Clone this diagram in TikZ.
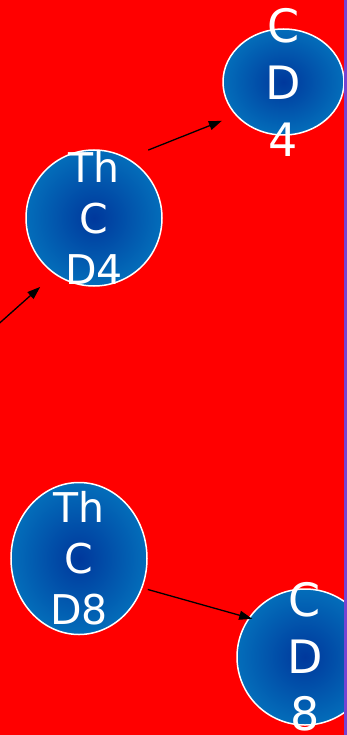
\documentclass[tikz,border=0pt]{standalone}
\usepackage{fontspec}
\setmainfont{DejaVu Sans}
\usetikzlibrary{shapes.geometric,arrows.meta}
\definecolor{bgred}{RGB}{255,0,0}
\definecolor{stripcol}{RGB}{118,68,210}
\definecolor{bin}{RGB}{0,56,156}
\definecolor{bout}{RGB}{4,124,194}
\pgfdeclareradialshading{blobshade}{\pgfpoint{0bp}{0bp}}{color(0bp)=(bin); color(32bp)=(bout); color(75bp)=(bout)}
\begin{document}
\begin{tikzpicture}[x=1pt,y=-1pt,
  blob/.style={ellipse, draw=white, line width=1.5pt, shading=blobshade, inner sep=0pt, outer sep=0pt},
  lbl/.style={text=white, align=center, inner sep=0pt},
  smalltxt/.style={font=\fontsize{41}{51}\selectfont},
  bigtxt/.style={font=\fontsize{46}{57}\selectfont},
  conn/.style={-{Triangle[length=13pt,width=9pt]}, line width=1.3pt, black}]
\useasboundingbox (0,0) rectangle (347,735);
\fill[bgred] (0,0) rectangle (347,735);
\node[blob, minimum width=121pt, minimum height=106pt] (cd4) at (283.5,82) {};
\node[blob, minimum width=136pt, minimum height=136pt] (thcd4) at (94,218) {};
\node[blob, minimum width=136pt, minimum height=152pt] (thcd8) at (79,558.5) {};
\node[blob, minimum width=136pt, minimum height=136pt] (cd8) at (305,657) {};
\node[lbl,bigtxt] (cd4t) at (cd4) {C\\D\\4};
\node[lbl,smalltxt] (thcd4t) at (thcd4) {Th\\C\\D4};
\node[lbl,smalltxt] (thcd8t) at (thcd8) {Th\\C\\D8};
\node[lbl,bigtxt] (cd8t) at (cd8) {C\\D\\8};
\coordinate (src) at (-20,340.5);
\draw[conn, shorten >=19.9pt] (src) -- (thcd4.235.7);
\draw[conn, shorten <=22.9pt, shorten >=15.5pt] (thcd4.61.2) -- (cd4.215.3);
\draw[conn, shorten <=6.3pt, shorten >=-3pt] (thcd8.335.4) -- (cd8.145.2);
\fill[stripcol] (343.5,0) rectangle (347,735);
\end{tikzpicture}
\end{document}
